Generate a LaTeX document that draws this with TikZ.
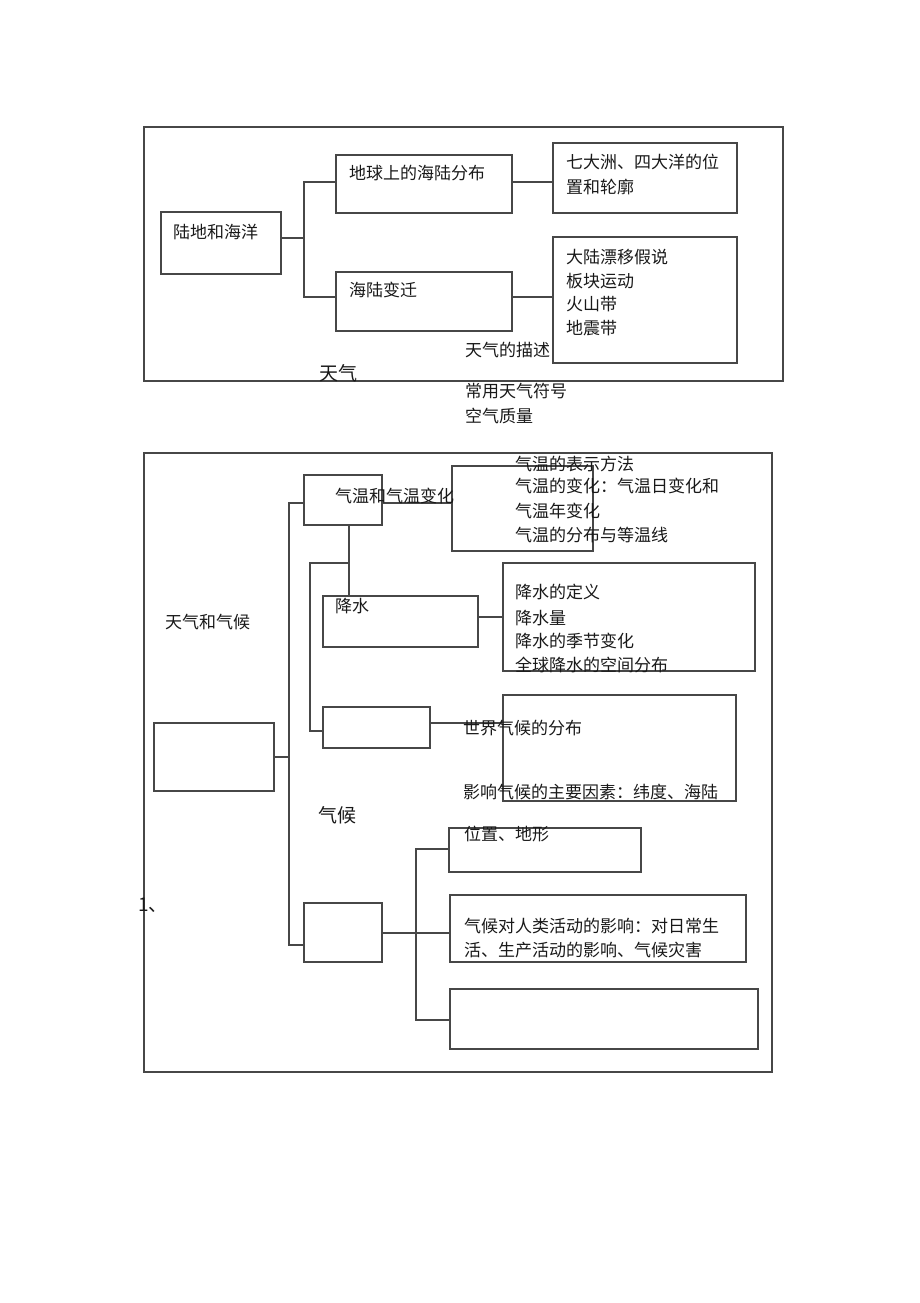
\documentclass[tikz,border=0pt]{standalone}
\usepackage{fontspec}
\newfontfamily\cjk{Noto Sans CJK SC}
\definecolor{ln}{gray}{0.28}
\definecolor{tx}{gray}{0.1}
\begin{document}
\begin{tikzpicture}[x=1pt,y=-1pt,
  box/.style={draw=ln,line width=1.3pt,inner sep=0pt,outer sep=0pt,anchor=north west},
  thk/.style={draw=ln,line width=2.5pt},
  con/.style={draw=ln,line width=1.3pt},
  thkcon/.style={draw=ln,line width=2.3pt},
  lbl/.style={anchor=west,inner sep=0pt,text=tx,font=\cjk\fontsize{17}{20}\selectfont},
  biglbl/.style={lbl,font=\cjk\fontsize{19}{22}\selectfont}]
\useasboundingbox (0,0) rectangle (920,1303);

% ---------------- Panel A ----------------
\node[box,minimum width=639pt,minimum height=254pt] (panelA) at (144,127) {};
\node[box,minimum width=120pt,minimum height=62pt] (ld) at (161,212) {};
\node[box,minimum width=176pt,minimum height=58pt] (dq) at (336,155) {};
\node[box,minimum width=176pt,minimum height=59pt] (hl) at (336,272) {};
\node[box,minimum width=184pt,minimum height=70pt] (qd) at (553,143) {};
\node[box,minimum width=184pt,minimum height=126pt] (dl) at (553,237) {};
\draw[thk] (dq.north west) -- (dq.north east);
\draw[thk] (hl.south west) -- (hl.south east);
\draw[thk] (dl.south west) -- (dl.south east);

\coordinate (tA) at (304,238);
\coordinate (tA1) at (304,182);
\coordinate (tA2) at (304,297);
\draw[con] (ld.east|-tA) -- (tA);
\draw[con] (dq.west|-tA1) -- (tA1) -- (tA2) -- (hl.west|-tA2);
\draw[con] (dq.east|-tA1) -- (qd.west|-tA1);
\draw[con] (hl.east|-tA2) -- (dl.west|-tA2);

\node[lbl] (t_ld) at (173,232) {陆地和海洋};
\node[lbl] (t_dq) at (349,173) {地球上的海陆分布};
\node[lbl] (t_hl) at (349,290) {海陆变迁};
\node[lbl] (t_qd1) at (566,162) {七大洲、四大洋的位};
\node[lbl] (t_qd2) at (566,187) {置和轮廓};
\node[lbl] (t_dl1) at (566,257) {大陆漂移假说};
\node[lbl] (t_dl2) at (566,281) {板块运动};
\node[lbl] (t_dl3) at (566,304) {火山带};
\node[lbl] (t_dl4) at (566,328) {地震带};
\node[lbl] (t_tqms) at (465,350) {天气的描述};
\node[biglbl] (t_tq) at (319,373) {天气};
\node[lbl] (t_cy) at (465,391) {常用天气符号};
\node[lbl] (t_kq) at (465,416) {空气质量};

% ---------------- Panel B ----------------
\node[box,minimum width=628pt,minimum height=619pt] (panelB) at (144,453) {};
\node[box,minimum width=78pt,minimum height=50pt] (qw) at (304,475) {};
\node[box,minimum width=141pt,minimum height=85pt] (qwc) at (452,466) {};
\draw[thk] (qwc.north west) -- (qwc.north east);
\node[box,minimum width=120pt,minimum height=68pt] (root) at (154,723) {};
\draw[thk] (root.south west) -- (root.north west) -- (root.north east);
\node[box,minimum width=155pt,minimum height=51pt] (js) at (323,596) {};
\node[box,minimum width=252pt,minimum height=108pt] (jsc) at (503,563) {};
\draw[thk] (jsc.north west) -- (jsc.north east);
\node[box,minimum width=107pt,minimum height=41pt] (qh) at (323,707) {};
\draw[thk] (qh.north east) -- (qh.south east);
\node[box,minimum width=233pt,minimum height=106pt] (sj) at (503,695) {};
\node[box,minimum width=192pt,minimum height=44pt] (wz) at (449,828) {};
\node[box,minimum width=296pt,minimum height=67pt] (rl) at (450,895) {};
\node[box,minimum width=308pt,minimum height=60pt] (kb) at (450,989) {};
\draw[thk] (kb.north east) -- (kb.south east);
\node[box,minimum width=78pt,minimum height=59pt] (sm) at (304,903) {};
\draw[thk] (sm.north west) -- (sm.south west);

% main trunk
\coordinate (tB1) at (289,503);
\coordinate (tB2) at (289,945);
\draw[con] (qw.west|-tB1) -- (tB1) -- (tB2) -- (sm.west|-tB2);
\draw[con] (root.east) -- (root.east-|tB1);
\draw[con] (qw.east|-tB1) -- (qwc.west|-tB1);
% sub trunk 1
\coordinate (s1) at (349,563);
\coordinate (s2) at (310,563);
\coordinate (s3) at (310,731);
\draw[con] (qw.south-|s1) -- (js.north-|s1);
\draw[con] (s1) -- (s2) -- (s3) -- (qh.west|-s3);
\coordinate (jy) at (0,617);
\draw[thkcon] (js.east|-jy) -- (jsc.west|-jy);
\coordinate (qy) at (0,723);
\draw[thkcon] (qh.east|-qy) -- (sj.west|-qy);
% sub trunk 2
\coordinate (u1) at (416,849);
\coordinate (u2) at (416,1020);
\coordinate (uy) at (0,933);
\draw[con] (wz.west|-u1) -- (u1) -- (u2) -- (kb.west|-u2);
\draw[con] (sm.east|-uy) -- (rl.west|-uy);

\node[lbl] (t_qw) at (335,496) {气温和气温变化};
\node[lbl] (t_qc1) at (515,464) {气温的表示方法};
\node[lbl] (t_qc2) at (515,486) {气温的变化：气温日变化和};
\node[lbl] (t_qc3) at (515,511) {气温年变化};
\node[lbl] (t_qc4) at (515,535) {气温的分布与等温线};
\node[lbl] (t_js) at (335,606) {降水};
\node[lbl] (t_jc1) at (515,592) {降水的定义};
\node[lbl] (t_jc2) at (515,618) {降水量};
\node[lbl] (t_jc3) at (515,641) {降水的季节变化};
\node[lbl] (t_jc4) at (515,665) {全球降水的空间分布};
\node[lbl] (t_tqqh) at (165,622) {天气和气候};
\node[lbl] (t_sj) at (463,728) {世界气候的分布};
\node[lbl] (t_yx) at (463,792) {影响气候的主要因素：纬度、海陆};
\node[biglbl] (t_qh) at (318,815) {气候};
\node[lbl] (t_wz) at (464,834) {位置、地形};
\node[lbl] (t_rl1) at (464,926) {气候对人类活动的影响：对日常生};
\node[lbl] (t_rl2) at (464,950) {活、生产活动的影响、气候灾害};
\node[lbl,font=\cjk\fontsize{19}{22}\selectfont] (t_one) at (138,905) {1、};
\end{tikzpicture}
\end{document}
